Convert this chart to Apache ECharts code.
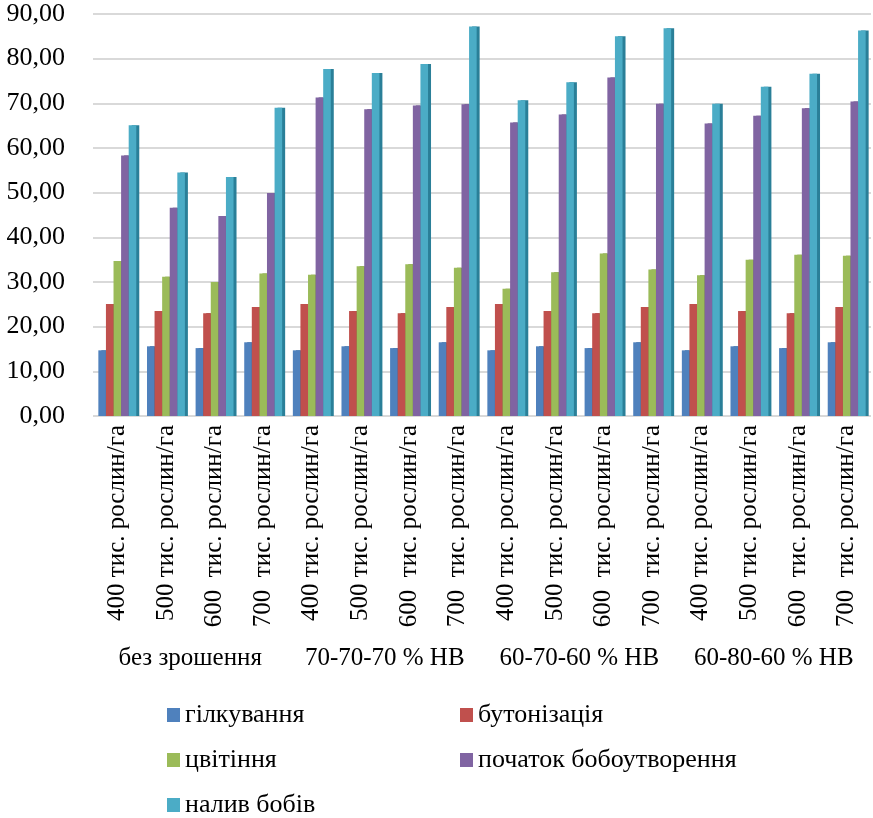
<!DOCTYPE html>
<html><head><meta charset="utf-8">
<script src="https://cdn.jsdelivr.net/npm/echarts@6/dist/echarts.min.js"></script>
<style>html,body{margin:0;padding:0;background:#fff}#c{width:873px;height:818px}</style>
</head><body><div id="c"></div>
<script>
const categories = [
  '400 тис. рослин/га','500 тис. рослин/га','600  тис. рослин/га','700  тис. рослин/га',
  '400 тис. рослин/га','500 тис. рослин/га','600  тис. рослин/га','700  тис. рослин/га',
  '400 тис. рослин/га','500 тис. рослин/га','600  тис. рослин/га','700  тис. рослин/га',
  '400 тис. рослин/га','500 тис. рослин/га','600  тис. рослин/га','700  тис. рослин/га'
];
const groups = ['без зрошення','70-70-70 % НВ','60-70-60 % НВ','60-80-60 % НВ'];
const seriesNames = ['гілкування','бутонізація','цвітіння','початок бобоутворення','налив бобів'];
const branching = [14.7,15.6,15.2,16.5, 14.7,15.6,15.2,16.5, 14.7,15.6,15.2,16.5, 14.7,15.6,15.2,16.5];
const budding   = [25.1,23.5,23.0,24.4, 25.1,23.5,23.0,24.4, 25.1,23.5,23.0,24.4, 25.1,23.5,23.0,24.4];
const flowering = [34.7,31.2,30.0,31.9, 31.6,33.5,34.0,33.2, 28.5,32.2,36.4,32.8, 31.5,35.0,36.1,35.9];
const podStart  = [58.3,46.6,44.8,49.9, 71.3,68.7,69.5,69.8, 65.7,67.5,75.8,69.9, 65.5,67.2,68.9,70.4];
const podFill   = [65.1,54.5,53.5,69.0, 77.7,76.8,78.8,87.2, 70.7,74.7,85.0,86.8, 69.9,73.7,76.6,86.3];
const yTicks = [0,10,20,30,40,50,60,70,80,90];

const colors = ['#4F81BD','#C0504D','#9BBB59','#8064A2','#4BACC6'];
const sides  = ['#2f5f94','#8e2f2c','#6f8a36','#5a4478','#2a7f98'];
const values = [branching,budding,flowering,podStart,podFill];
const font = '"Liberation Serif", "Times New Roman", serif';

const chart = echarts.init(document.getElementById('c'));
const legendPos = [[167,702],[460,702],[167,747],[460,747],[167,792]];
chart.setOption({
  animation:false,
  color: colors,
  textStyle:{fontFamily:font},
  grid:{left:93,right:2,top:14,bottom:402},
  legend: seriesNames.map((n,i)=>({
    data:[n], left:legendPos[i][0], top:legendPos[i][1], icon:'rect',
    itemWidth:13, itemHeight:14, itemGap:0, padding:0,
    textStyle:{fontFamily:font,fontSize:26,color:'#000'}
  })),
  xAxis:[{
    type:'category', data:categories, position:'bottom',
    axisLine:{show:false}, axisTick:{show:false},
    axisLabel:{rotate:90, interval:0, fontFamily:font, fontSize:25, color:'#000', margin:9}
  },{
    type:'category', data:groups, position:'bottom', offset:222,
    axisLine:{show:false}, axisTick:{show:false},
    axisLabel:{interval:0, fontFamily:font, fontSize:25, color:'#000', margin:8}
  }],
  yAxis:{
    type:'value', min:0, max:90, interval:10,
    axisLine:{show:false}, axisTick:{show:false},
    splitLine:{lineStyle:{color:'#d9d9d9',width:2}},
    axisLabel:{fontFamily:font,fontSize:26,color:'#000',margin:28,
      formatter:v=>v.toFixed(2).replace('.',',')}
  },
  series: seriesNames.map((n,i)=>({
    name:n, type:'bar', data:values[i], xAxisIndex:0,
    barGap:'0%', barCategoryGap:'22%',
    itemStyle:{color:colors[i], shadowColor:sides[i], shadowBlur:0, shadowOffsetX:3, shadowOffsetY:0}
  }))
});
</script></body></html>
